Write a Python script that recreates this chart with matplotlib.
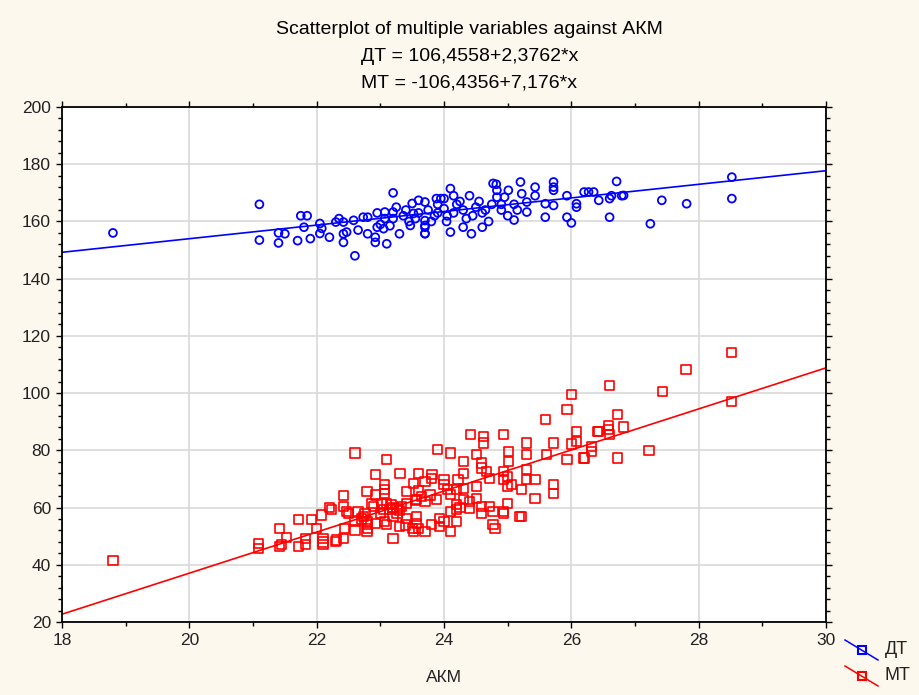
import matplotlib
matplotlib.use("Agg")
import matplotlib.pyplot as plt
from matplotlib.lines import Line2D
from matplotlib.ticker import MultipleLocator
import numpy as np

plt.rcParams['font.family'] = ['Liberation Sans', 'DejaVu Sans']

# ДТ against АКМ
akm_dt = [18.8,
    21.1, 21.1, 21.4, 21.4, 21.5, 21.7, 21.75, 21.85, 21.8, 21.9,
    22.05, 22.08, 22.05, 22.2, 22.3, 22.42, 22.42, 22.47, 22.42, 22.6,
    22.58, 22.73, 22.8, 22.8, 22.92, 22.92, 22.95, 23.0, 23.05, 23.1,
    23.07, 23.2, 23.07, 23.2, 23.2, 23.3, 23.36, 23.4, 23.5, 23.6,
    23.7, 23.7, 23.7, 23.47, 23.52, 23.45, 23.6, 23.75, 23.85, 23.88,
    23.95, 24.0, 23.8, 23.9, 24.0, 24.04, 24.1, 24.1, 24.15, 24.2,
    24.15, 24.3, 24.25, 24.3, 24.43, 24.4, 24.5, 24.45, 24.6, 24.55,
    24.6, 24.7, 24.75, 24.77, 24.82, 24.83, 25.01, 24.83, 24.95, 24.9,
    25.0, 25.1, 25.1, 25.2, 25.22, 25.3, 25.3, 25.43, 25.43, 25.59,
    25.72, 25.59, 25.72, 25.72, 25.72, 25.93, 25.93, 26.0, 26.08, 26.08,
    26.2, 26.27, 26.35, 26.43, 26.6, 26.6, 26.63, 26.71, 26.79, 26.82,
    27.24, 27.42, 27.81, 28.52, 28.52, 23.7, 23.7, 23.7, 22.35, 22.65,
    23.25, 23.55, 23.9, 24.05, 24.35, 24.65, 24.9, 25.15, 23.15, 22.95]
dt = [156,
    166, 153.5, 156, 152.5, 155.7, 153.3, 162, 162, 158, 154,
    159.3, 157.6, 155.8, 154.5, 159.8, 159.8, 155.7, 156.3, 152.7, 148,
    160.4, 161.5, 161.5, 155.7, 154.5, 152.7, 158, 159, 157.5, 152.2,
    163.3, 163.3, 161, 161, 170, 155.7, 162, 164, 166.3, 167.4,
    166.8, 158.6, 155.8, 158.6, 162.8, 160, 163, 164, 162, 168,
    168, 168, 160, 163, 164.5, 160, 171.5, 156.3, 169, 166,
    163, 158, 167, 164, 155.7, 169, 165, 162, 158, 167,
    163, 160, 166, 173.3, 173, 170.9, 170.9, 168.5, 168.5, 164,
    162, 166, 160.5, 173.8, 169.7, 166.8, 163.3, 172, 169, 166.2,
    165.6, 161.5, 173.8, 172, 170.9, 169, 161.5, 159.5, 166.2, 165,
    170.3, 170.3, 170.3, 167.4, 168, 161.5, 169, 174, 169, 169.1,
    159.2, 167.4, 166.2, 168, 175.5, 160.3, 158, 155.7, 161, 157,
    165, 161, 166, 162, 161, 164, 166, 164, 158.5, 163]

# МТ against АКМ
akm_mt = [18.8,
    21.08, 21.08, 21.41, 21.41, 21.52, 21.71, 21.71, 21.82, 21.82, 21.92,
    22.0, 22.08, 22.1, 22.1, 22.1, 22.2, 22.42, 22.42, 22.5, 22.31,
    22.42, 22.6, 22.6, 23.1, 22.92, 23.31, 23.07, 23.07, 23.07, 23.52,
    22.79, 22.92, 23.41, 23.57, 22.23, 22.47, 22.65, 22.7, 22.8, 22.8,
    22.89, 23.0, 23.1, 23.2, 23.3, 23.41, 23.2, 23.1, 23.3, 23.5,
    23.2, 22.92, 23.57, 23.57, 22.29, 21.45, 23.26, 23.15, 22.76, 22.73,
    22.6, 22.44, 23.02, 22.87, 23.33, 23.88, 23.78,
    26.0, 25.93, 25.59, 26.08, 26.08, 26.0, 26.42, 26.58, 26.58, 26.6,
    26.32, 26.32, 26.19, 25.93, 25.72, 25.3, 25.3, 25.61, 25.3, 25.3,
    25.72, 25.72, 25.43, 25.22, 24.94, 25.01, 25.01, 24.62, 24.62, 24.41,
    24.51, 24.59, 24.59, 24.67, 24.72, 25.0, 25.06, 25.0, 25.22, 24.51,
    24.3, 24.3, 24.3, 24.3, 24.1, 24.2, 24.25, 24.1, 23.9, 24.0,
    24.0, 24.05, 23.81, 23.7, 23.8, 23.6, 23.6, 23.65, 23.55, 23.7,
    24.59, 24.59, 25.0, 24.93, 24.77, 24.8, 23.8, 23.6, 23.4, 23.7,
    23.52, 23.41,
    28.52, 28.52, 27.8, 27.43, 27.22, 26.6, 26.72, 26.82, 26.41, 26.72,
    26.21, 24.93, 24.93, 25.43, 25.19, 24.2, 24.22, 24.4, 24.4, 24.51,
    24.72, 24.77, 24.93, 23.93, 23.93, 24.1, 24.0, 24.2, 24.2, 24.1,
    23.07, 23.05, 23.26, 23.18, 22.79, 22.79]
mt = [41.5,
    47.5, 45.7, 52.7, 46.3, 49.5, 55.7, 46.3, 49.3, 47, 55.7,
    52.7, 57.4, 49.3, 48, 47, 60, 64.2, 60.3, 58, 48.7,
    49.3, 79.1, 52.2, 76.7, 71.5, 72, 68, 66.2, 65, 68.5,
    65.6, 64.4, 65.6, 62.7, 59.2, 58.6, 58.6, 56, 54, 52.7,
    60.4, 58, 61.5, 60, 59, 61.5, 57, 54, 53.5, 52.7,
    49.3, 54.5, 56.8, 54.5, 48.1, 47, 59.8, 59.2, 58, 56.8,
    55, 52.7, 61.5, 61.5, 60.4, 62.7, 64.4,
    99.5, 94.3, 90.8, 86.7, 83.2, 82.2, 86.7, 88.6, 87.4, 85.5,
    81.4, 79.6, 77.3, 76.7, 82.6, 82.6, 78.5, 78.5, 73.2, 69.7,
    68, 65, 63.3, 56.8, 85.5, 79.6, 76.1, 84.9, 82.6, 85.5,
    78.5, 75.6, 73.8, 72.6, 70.3, 70.9, 68, 67.4, 66.2, 67.4,
    76.1, 72, 66.8, 62.7, 64.5, 61, 60, 79.1, 80.2, 69.7,
    68, 66.2, 71.5, 69.1, 70.3, 72, 66, 64, 62.5, 62,
    60.4, 58, 61.5, 58, 54, 52.7, 54, 52.7, 53.9, 51.6,
    51.6, 56.2,
    114.1, 97.2, 108.3, 100.7, 80, 102.8, 92.5, 88.2, 86.7, 77.3,
    77.3, 72.6, 69.7, 69.7, 56.8, 66.2, 69.7, 62.1, 59.8, 63.3,
    60.4, 58.6, 58.6, 56.2, 53.3, 51.6, 55, 55, 59.2, 58.6,
    55, 59.2, 58, 61, 55, 51.6]

# fitted lines: y = a + b*x
fit_dt = (106.4558, 2.3762)
fit_mt = (-106.4356, 7.176)

bg = '#fdf8ee'
fig = plt.figure(figsize=(9.2, 6.95), dpi=100, facecolor=bg)
ax = fig.add_axes([0.0674, 0.105, 0.8305, 0.741])
ax.set_facecolor('white')

ax.scatter(akm_dt, dt, s=32, marker='o', facecolors='none', edgecolors='#0000ff', linewidths=1.3, zorder=3)
ax.scatter(akm_mt, mt, s=44, marker='s', facecolors='none', edgecolors='#ff0000', linewidths=1.2, zorder=3)

xs = np.array([18, 30])
ax.plot(xs, fit_dt[0] + fit_dt[1] * xs, color='#0000ff', lw=1.2, zorder=2)
ax.plot(xs, fit_mt[0] + fit_mt[1] * xs, color='#ff0000', lw=1.2, zorder=2)

ax.set_xlim(18, 30)
ax.set_ylim(20, 200)
ax.xaxis.set_major_locator(MultipleLocator(2))
ax.xaxis.set_minor_locator(MultipleLocator(1))
ax.yaxis.set_major_locator(MultipleLocator(20))
ax.yaxis.set_minor_locator(MultipleLocator(4))
ax.grid(True, which='major', color='#d9d9d9', lw=1.2, zorder=0)
ax.set_axisbelow(True)
for s in ax.spines.values():
    s.set_color('black')
    s.set_linewidth(1.3)
ax.tick_params(which='both', direction='out', top=True, right=True, length=4, width=1,
               labelsize=12.5, labelcolor='#222222', pad=4)
ax.tick_params(which='minor', length=3)
ax.tick_params(right=True, labelright=False, top=True, labeltop=False)

ax.set_xlabel('АКМ', fontsize=12.5, color='#222222', labelpad=16)

fig.text(0.51, 0.957, 'Scatterplot of multiple variables against АКМ', ha='center', va='center', fontsize=14)
fig.text(0.51, 0.918, 'ДТ = 106,4558+2,3762*x', ha='center', va='center', fontsize=14)
fig.text(0.51, 0.880, 'МТ = -106,4356+7,176*x', ha='center', va='center', fontsize=14)

# legend with slanted sample lines (pixel rows measured from the top)
def legend_item(top, text_row, color, label):
    x0, x1 = 845 / 920, 878 / 920
    y0, y1 = 1 - top / 695, 1 - (top + 20) / 695
    fig.add_artist(Line2D([x0, x1], [y0, y1], color=color, lw=1.1, transform=fig.transFigure))
    fig.add_artist(Line2D([(x0 + x1) / 2], [(y0 + y1) / 2], marker='s', ms=5.5, mfc='none',
                          mec=color, mew=1.5, transform=fig.transFigure))
    fig.text(885 / 920, 1 - text_row / 695, label, fontsize=13, color='#222222', va='center')

legend_item(640, 649, '#0000ff', 'ДТ')
legend_item(666, 675, '#ff0000', 'МТ')

fig.savefig('out.png', dpi=100, facecolor=bg)
